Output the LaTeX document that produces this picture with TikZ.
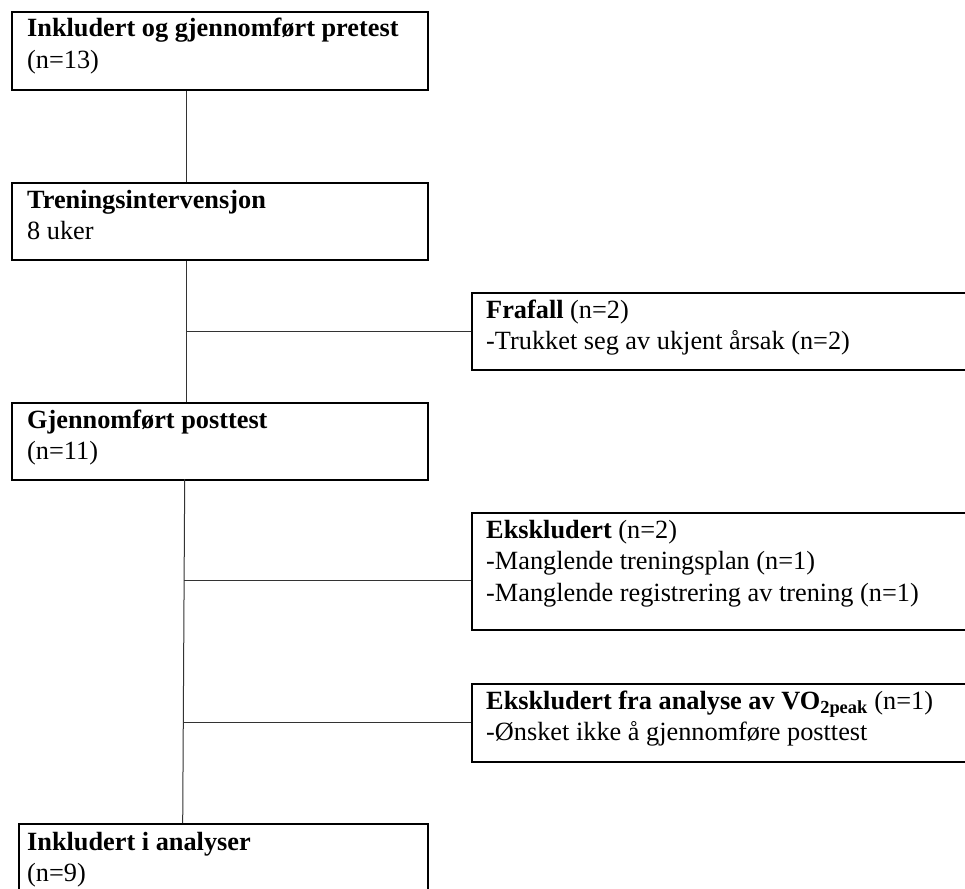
\documentclass[tikz,border=0pt]{standalone}
\usepackage{fontspec}
\setmainfont{Liberation Serif}
\begin{document}
\begin{tikzpicture}[x=1pt,y=-1pt,
  box/.style={draw=black,line width=1.8pt,rectangle,anchor=north west,inner sep=0pt},
  conn/.style={draw=black!80,line width=1pt},
  txt/.style={anchor=base west,inner sep=0pt,font=\fontsize{26.3}{30}\selectfont}]
\useasboundingbox (0,0) rectangle (965,888);
\clip (0,0) rectangle (965,888);
% boxes
\node[box,minimum width=416pt,minimum height=78pt] (b1) at (11,11) {};
\node[box,minimum width=416pt,minimum height=77pt] (b2) at (11,182) {};
\node[box,minimum width=416pt,minimum height=77pt] (b3) at (11,402) {};
\node[box,minimum width=409pt,minimum height=100pt] (b4) at (18,823) {};
\node[box,minimum width=520pt,minimum height=77pt] (r1) at (471,292) {};
\node[box,minimum width=520pt,minimum height=117pt] (r2) at (471,512) {};
\node[box,minimum width=520pt,minimum height=78pt] (r3) at (471,683) {};
% texts
\node[txt] (t1a) at (27,37) {\textbf{Inkludert og gjennomført pretest}};
\node[txt] (t1b) at (27,68.5) {(n=13)};
\node[txt] (t2a) at (27,208) {\textbf{Treningsintervensjon}};
\node[txt] (t2b) at (27,239.5) {8 uker};
\node[txt] (t3a) at (27,428) {\textbf{Gjennomført posttest}};
\node[txt] (t3b) at (27,459.5) {(n=11)};
\node[txt] (t4a) at (27,850) {\textbf{Inkludert i analyser}};
\node[txt] (t4b) at (27,881.5) {(n=9)};
\node[txt] (r1a) at (486,318) {\textbf{Frafall} (n=2)};
\node[txt] (r1b) at (486,349.5) {-Trukket seg av ukjent årsak (n=2)};
\node[txt] (r2a) at (486,538) {\textbf{Ekskludert} (n=2)};
\node[txt] (r2b) at (486,569.5) {-Manglende treningsplan (n=1)};
\node[txt] (r2c) at (486,601) {-Manglende registrering av trening (n=1)};
\node[txt] (r3a) at (486,709) {\textbf{Ekskludert fra analyse av VO\textsubscript{2peak}} (n=1)};
\node[txt] (r3b) at (486,740.5) {-Ønsket ikke å gjennomføre posttest};
% connector coordinates
\coordinate (c1) at (186,0);
\coordinate (c2) at (186.7,0);
\coordinate (c3top) at (184.7,479);
\coordinate (c3bot) at (182.7,823);
\coordinate (j1) at (186.7,331);
\coordinate (j2) at (184.1,580);
\coordinate (j3) at (183.3,722);
% connectors
\draw[conn] (b1.south -| c1) -- (b2.north -| c1);
\draw[conn] (b2.south -| c2) -- (b3.north -| c2);
\draw[conn] (j1) -- (j1 -| r1.west);
\draw[conn] (c3top) -- (c3bot);
\draw[conn] (j2) -- (j2 -| r2.west);
\draw[conn] (j3) -- (j3 -| r3.west);
\end{tikzpicture}
\end{document}
